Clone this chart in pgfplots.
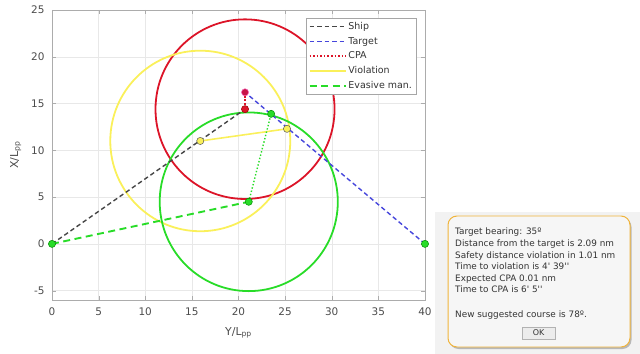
\documentclass[border=0pt]{standalone}
\usepackage{pgfplots}
\pgfplotsset{compat=1.18}
\usepackage{fontspec}
\setmainfont{DejaVu Sans}
\newfontfamily\dlgfont{DejaVu Sans}
\usetikzlibrary{shadows}
\definecolor{shipc}{RGB}{70,70,70}
\definecolor{targc}{RGB}{70,70,220}
\definecolor{cpac}{RGB}{220,20,40}
\definecolor{violc}{RGB}{250,240,90}
\definecolor{evac}{RGB}{40,220,40}
\definecolor{dlgborder}{RGB}{240,180,60}
\begin{document}
\begin{tikzpicture}
\begin{axis}[
  scale only axis, width=373bp, height=290bp,
  xmin=0, xmax=40, ymin=-6, ymax=25,
  xtick={0,5,...,40}, ytick={-5,0,...,25},
  grid=major, grid style={gray!18, line width=0.4pt},
  axis line style={gray!65}, tick style={gray!65}, tick align=inside,
  major tick length=4bp,
  ticklabel style={font=\fontsize{10.5}{12}\selectfont, text=black!70},
  xticklabel style={yshift=-4bp},
  yticklabel style={xshift=-4bp},
  /pgf/number format/assume math mode=true,
  xlabel={Y/L\textsubscript{pp}}, ylabel={X/L\textsubscript{pp}},
  label style={font=\fontsize{11}{12}\selectfont, text=black!70},
  xlabel style={yshift=-5bp},
  ylabel style={yshift=3bp},
  legend style={at={(0.976,0.972)}, anchor=north east, draw=gray!70,
    font=\fontsize{9.5}{11}\selectfont, text=black!80, row sep=2.2bp,
    inner sep=2bp},
  legend cell align=left,
  legend image code/.code={\draw[#1] (0bp,0bp) -- (36bp,0bp);},
]
\draw[cpac, line width=1.8pt] (axis cs:20.7,14.4) circle [radius=9.6];
\draw[violc, line width=1.8pt] (axis cs:15.9,11.0) circle [radius=9.65];
\draw[evac, line width=1.8pt] (axis cs:21.1,4.5) circle [radius=9.55];

\addplot[shipc, line width=1.4pt, dash pattern=on 4.5bp off 3bp] coordinates {(0,0) (20.7,14.4)};
\addlegendentry{Ship}
\addplot[targc, line width=1.4pt, dash pattern=on 4.5bp off 3bp] coordinates {(40,0) (20.7,16.2)};
\addlegendentry{Target}
\addplot[cpac, line width=1.6pt, dotted] coordinates {(20.7,16.2) (20.7,14.4)};
\addlegendentry{CPA}
\addplot[violc, line width=1.6pt] coordinates {(15.9,11.0) (25.2,12.3)};
\addlegendentry{Violation}
\addplot[evac, line width=1.9pt, dash pattern=on 7bp off 4.5bp] coordinates {(0,0) (21.1,4.5)};
\addlegendentry{Evasive man.}
\addplot[evac, line width=1.4pt, dotted, forget plot] coordinates {(21.1,4.5) (23.5,13.9)};

\addplot[only marks, mark=*, mark size=3.6bp, forget plot,
  mark options={fill=evac, draw=green!55!black, line width=0.5pt}]
  coordinates {(0,0) (40,0) (21.1,4.5) (23.5,13.9)};
\addplot[only marks, mark=*, mark size=3.6bp, forget plot,
  mark options={fill=violc, draw=gray!70!black, line width=0.5pt}]
  coordinates {(15.9,11.0) (25.2,12.3)};
\addplot[only marks, mark=*, mark size=3.6bp, forget plot,
  mark options={fill=cpac, draw=red!60!black, line width=0.5pt}]
  coordinates {(20.7,14.4)};
\addplot[only marks, mark=*, mark size=3.6bp, forget plot,
  mark options={fill={rgb,255:red,200;green,20;blue,70}, draw=magenta!60, line width=0.5pt}]
  coordinates {(20.7,16.2)};
\end{axis}
% dialog box
\fill[gray!10] (383bp,-54bp) rectangle (588bp,88bp);
\draw[rounded corners=9bp, draw=dlgborder, line width=1pt, fill=gray!7,
  drop shadow={shadow xshift=1.5bp, shadow yshift=-2bp, opacity=0.5}]
  (396bp,-47bp) rectangle (578bp,84bp);
\begin{scope}[every node/.style={anchor=base west, inner sep=0pt,
   font=\dlgfont\fontsize{8.9}{10}\selectfont, text=black!80}]
\node at (403bp,65bp) {Target bearing: 35º};
\node at (403bp,53.5bp) {Distance from the target is 2.09 nm};
\node at (403bp,41.8bp) {Safety distance violation in 1.01 nm};
\node at (403bp,30.2bp) {Time to violation is 4' 39''};
\node at (403bp,18.6bp) {Expected CPA 0.01 nm};
\node at (403bp,7.3bp) {Time to CPA is 6' 5''};
\node at (403bp,-17bp) {New suggested course is 78º.};
\end{scope}
\draw[gray!60, fill=gray!15, drop shadow={shadow xshift=0.8bp, shadow yshift=-0.8bp, opacity=0.4}]
  (470bp,-39bp) rectangle (503bp,-27bp);
\node[font=\dlgfont\fontsize{8}{9}\selectfont, text=black!80, inner sep=0pt] at (486.5bp,-33bp) {OK};
\path (-52bp,-54bp) rectangle (588bp,300bp);
\end{tikzpicture}
\end{document}
